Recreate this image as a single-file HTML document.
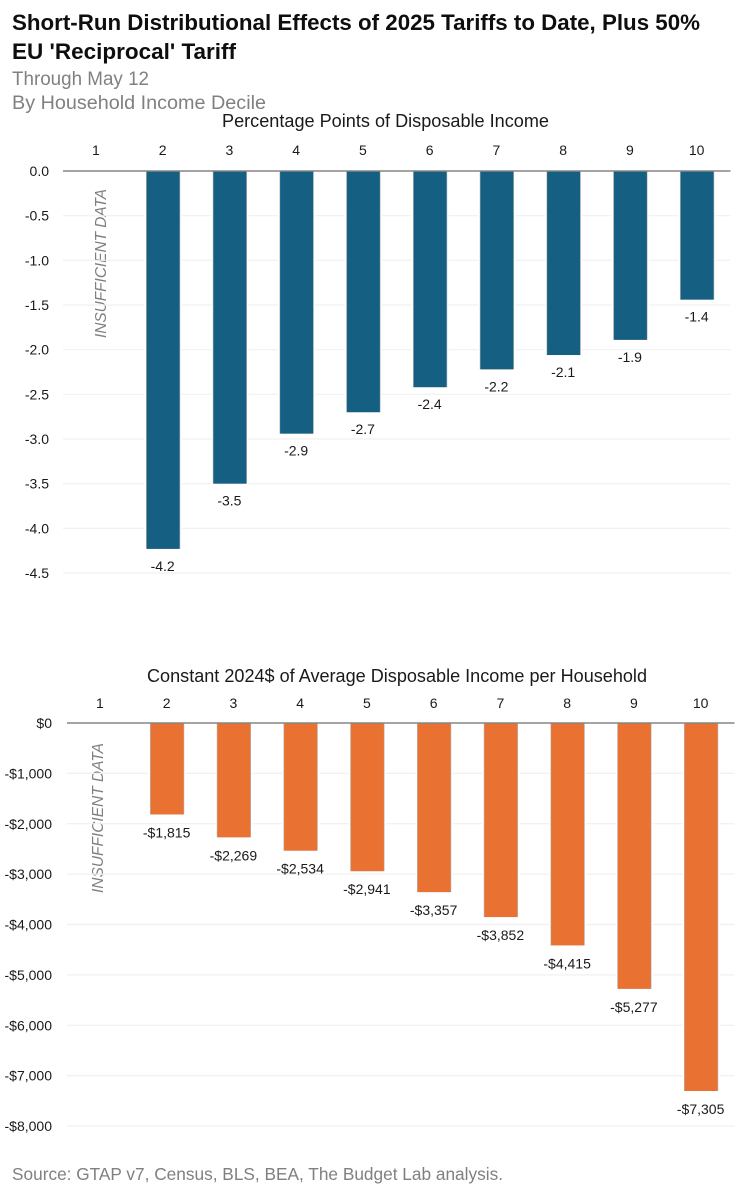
<!DOCTYPE html>
<html lang="en">
<head>
<meta charset="utf-8">
<title>Short-Run Distributional Effects of 2025 Tariffs to Date</title>
<style>
html,body{margin:0;padding:0;background:#fff;}
svg{display:block;font-family:"Liberation Sans",sans-serif;}
</style>
</head>
<body>
<svg id="chart" width="753" height="1200" viewBox="0 0 753 1200" xmlns="http://www.w3.org/2000/svg">
  <rect x="0" y="0" width="753" height="1200" fill="#ffffff"/>
  <text x="12" y="30" font-size="22" font-weight="700" fill="#0e0e0e" textLength="688" lengthAdjust="spacingAndGlyphs">Short-Run Distributional Effects of 2025 Tariffs to Date, Plus 50%</text>
  <text x="12" y="59" font-size="22" font-weight="700" fill="#0e0e0e" textLength="224" lengthAdjust="spacingAndGlyphs">EU 'Reciprocal' Tariff</text>
  <text x="12" y="85" font-size="19" fill="#808080" textLength="137" lengthAdjust="spacingAndGlyphs">Through May 12</text>
  <text x="12" y="109" font-size="19" fill="#808080" textLength="254" lengthAdjust="spacingAndGlyphs">By Household Income Decile</text>
  <text x="222" y="127" font-size="18" fill="#1a1a1a" textLength="327" lengthAdjust="spacingAndGlyphs">Percentage Points of Disposable Income</text>
  <text x="147" y="682" font-size="18" fill="#1a1a1a" textLength="500" lengthAdjust="spacingAndGlyphs">Constant 2024$ of Average Disposable Income per Household</text>
  <text transform="translate(106,338) rotate(-90)" font-size="16" font-style="italic" fill="#7f7f7f" textLength="149" lengthAdjust="spacingAndGlyphs">INSUFFICIENT DATA</text>
  <text transform="translate(103,893) rotate(-90)" font-size="16" font-style="italic" fill="#7f7f7f" textLength="150" lengthAdjust="spacingAndGlyphs">INSUFFICIENT DATA</text>
  <text x="12" y="1180" font-size="17.5" fill="#808080" textLength="491" lengthAdjust="spacingAndGlyphs">Source: GTAP v7, Census, BLS, BEA, The Budget Lab analysis.</text>
  <g id="top-chart"></g>
  <g id="bottom-chart"></g>
</svg>
<script>
const deciles = ['1', '2', '3', '4', '5', '6', '7', '8', '9', '10'];
const pctValues = [null, -4.23, -3.5, -2.94, -2.7, -2.42, -2.22, -2.06, -1.89, -1.44];
const pctTicks = [0, -0.5, -1, -1.5, -2, -2.5, -3, -3.5, -4, -4.5];
const usdValues = [null, -1815, -2269, -2534, -2941, -3357, -3852, -4415, -5277, -7305];
const usdTicks = [0, -1000, -2000, -3000, -4000, -5000, -6000, -7000, -8000];

const NS = 'http://www.w3.org/2000/svg';

function make(parent, tag, props, content) {
  const el = document.createElementNS(NS, tag);
  for (const key in props) {
    el.setAttribute(key, props[key]);
  }
  if (content !== undefined) {
    el.textContent = content;
  }
  parent.appendChild(el);
  return el;
}

function fmtPct(v) {
  return v.toFixed(1);
}

function fmtUsd(v) {
  const abs = Math.abs(Math.round(v)).toString().replace(/\B(?=(\d{3})+$)/g, ',');
  return (v < 0 ? '-$' : '$') + abs;
}

function drawChart(group, key, cfg, categories, values, ticks, fmt) {
  const yScale = function (v) {
    return cfg.y0 + (v / cfg.yMin) * (cfg.yEnd - cfg.y0);
  };
  const band = (cfg.right - cfg.left) / categories.length;
  const xScale = function (i) {
    return cfg.left + band * (i + 0.5);
  };

  ticks.forEach(function (t) {
    const y = yScale(t);
    if (t !== 0) {
      const grid = make(group, 'line', { x1: cfg.left, x2: cfg.right, y1: y, y2: y, stroke: '#f0f0f0', 'stroke-width': 1.2 });
      
      
    }
    const label = make(group, 'text', { x: cfg.tickX, y: y + 5, 'font-size': 14, 'text-anchor': 'end', fill: '#1a1a1a' }, fmt(t, true));
    
    
  });

  categories.forEach(function (c, i) {
    const label = make(group, 'text', { x: xScale(i) - 0.5, y: cfg.catY, 'font-size': 14, 'text-anchor': 'middle', fill: '#1a1a1a' }, c);
    
    

    const v = values[i];
    if (v === null) {
      return;
    }
    const yEnd = yScale(v);
    const gap = make(group, 'rect', { x: xScale(i) - cfg.barW / 2 - 2, y: cfg.y0, width: cfg.barW + 4, height: yEnd - cfg.y0 + 1, fill: '#ffffff' });
    
    
    const edge = make(group, 'rect', { x: xScale(i) - cfg.barW / 2 - 0.6, y: cfg.y0, width: cfg.barW + 1.2, height: yEnd - cfg.y0, fill: '#b4b4b4' });
    
    
    const bar = make(group, 'rect', { x: xScale(i) - cfg.barW / 2, y: cfg.y0, width: cfg.barW, height: yEnd - cfg.y0, fill: cfg.color });
    
    
    const val = make(group, 'text', { x: xScale(i) - 0.5, y: yEnd + cfg.valueGap, 'font-size': 14, 'text-anchor': 'middle', fill: '#1a1a1a' }, fmt(v));
    
    
  });

  const axis = make(group, 'line', { x1: cfg.left, x2: cfg.right, y1: cfg.y0, y2: cfg.y0, stroke: '#858585', 'stroke-width': 1.5 });
  
  
}

drawChart(document.getElementById('top-chart'), 'pct',
  { left: 63, right: 730.5, y0: 171, yEnd: 573, yMin: -4.5, barW: 33, color: '#156082', tickX: 49, catY: 155, valueGap: 22 },
  deciles, pctValues, pctTicks, fmtPct);

drawChart(document.getElementById('bottom-chart'), 'usd',
  { left: 67, right: 734.5, y0: 723, yEnd: 1126, yMin: -8000, barW: 33, color: '#e97132', tickX: 52, catY: 708, valueGap: 23 },
  deciles, usdValues, usdTicks, fmtUsd);
</script>
</body>
</html>
